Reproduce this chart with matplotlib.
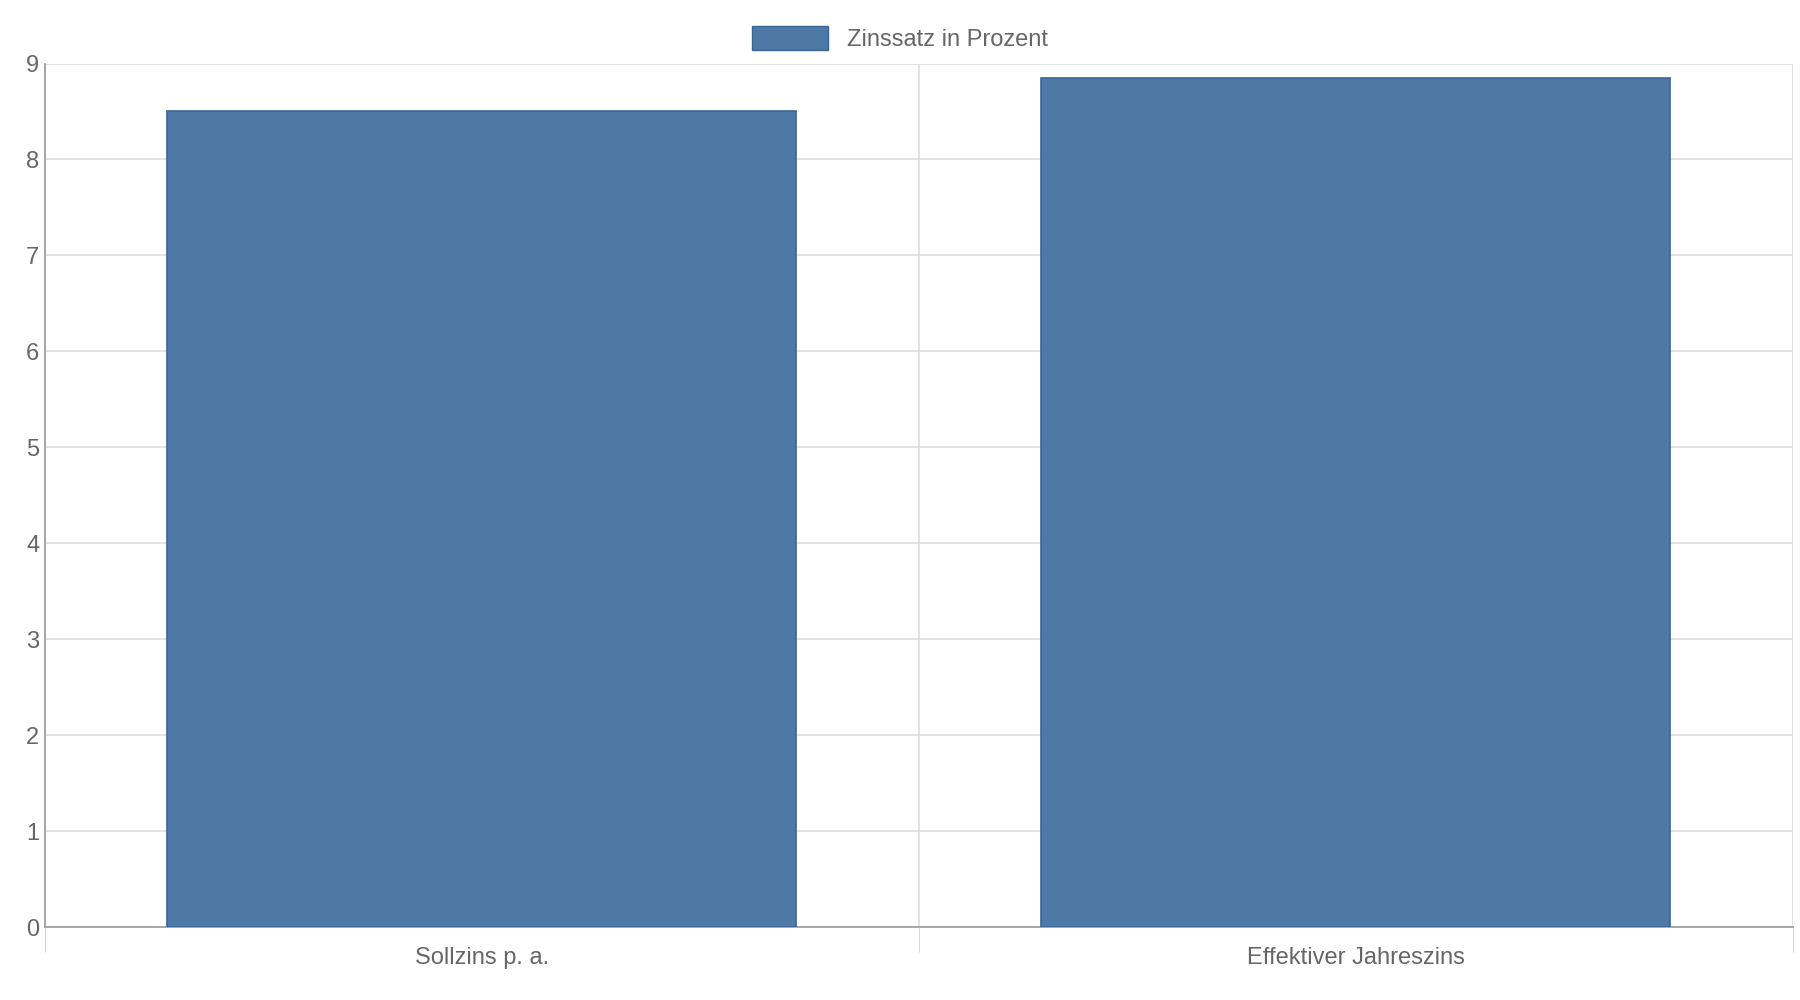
import matplotlib
matplotlib.use("Agg")
import matplotlib.pyplot as plt
from matplotlib.patches import Patch

categories = ["Sollzins p. a.", "Effektiver Jahreszins"]
values = [8.5, 8.85]
series_name = "Zinssatz in Prozent"
yticks = list(range(0, 10))

plt.rcParams['font.family'] = ['Liberation Sans', 'DejaVu Sans']
fig = plt.figure(figsize=(18, 10), dpi=100)
ax = fig.add_axes([0.0249, 0.0726, 0.9711, 0.8639])
color = "#4e79a7"
x = list(range(len(categories)))
ax.bar(x, values, width=0.72, color=color, edgecolor="#3b6593", linewidth=1.2, zorder=3)
ax.set_xlim(-0.5, len(categories) - 0.5)
ax.set_ylim(0, 9)
ax.set_yticks(yticks)
ax.set_xticks(x)
ax.set_xticklabels(categories)
ax.set_xticks([i - 0.5 for i in range(len(categories) + 1)], minor=True)
ax.tick_params(axis='x', which='major', length=0, pad=14, labelsize=17, labelcolor="#666666")
ax.tick_params(axis='x', which='minor', length=18, color="#cccccc")
ax.tick_params(axis='y', length=0, pad=4, labelsize=17, labelcolor="#666666")
ax.grid(axis='y', color="#dddddd", linewidth=1.2, zorder=0)
ax.grid(axis='x', which='minor', color="#dddddd", linewidth=1.2, zorder=0)
for s in ['top', 'right']:
    ax.spines[s].set_visible(False)
ax.spines['left'].set_color("#999999")
ax.spines['bottom'].set_color("#999999")
ax.spines['left'].set_linewidth(1.2)
ax.spines['bottom'].set_linewidth(1.2)
fig.legend(handles=[Patch(facecolor=color, edgecolor="#3b6593", label=series_name)],
           loc='upper center', bbox_to_anchor=(0.5, 0.995), frameon=False,
           fontsize=17, labelcolor="#666666", handlelength=3.2, handleheight=1.2)
fig.savefig("out.png")
